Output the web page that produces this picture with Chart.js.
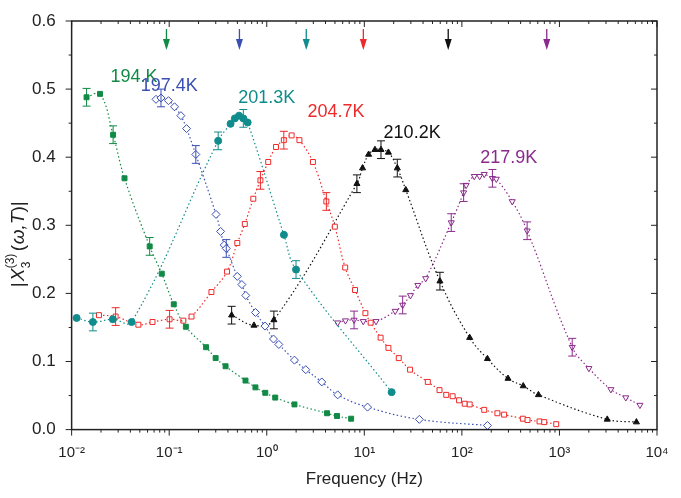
<!DOCTYPE html>
<html><head><meta charset="utf-8">
<script src="https://cdn.jsdelivr.net/npm/chart.js@4/dist/chart.umd.min.js"></script>
<style>body{margin:0;background:#fff}#wrap{width:681px;height:498px}</style>
</head><body><div id="wrap"><canvas id="c"></canvas></div>
<script>
// log10(frequency) and |X3| values
const g194x=[-1.847,-1.709,-1.575,-1.458,-1.2,-1.076,-0.953,-0.829,-0.622,-0.524,-0.422,-0.218,-0.116,-0.015,0.087,0.284,0.618,0.72,0.865];
const g194y=[0.488,0.493,0.433,0.369,0.269,0.229,0.184,0.151,0.121,0.105,0.093,0.072,0.062,0.054,0.047,0.037,0.024,0.020,0.016];
const b197x=[-1.135,-1.084,-1.007,-0.945,-0.88,-0.822,-0.727,-0.52,-0.473,-0.436,-0.415,-0.302,-0.255,-0.215,-0.116,-0.018,0.069,0.124,0.284,0.4,0.564,0.727,1.033,1.564,2.262];
const b197y=[0.485,0.487,0.483,0.474,0.461,0.442,0.404,0.316,0.291,0.271,0.266,0.225,0.213,0.197,0.172,0.152,0.133,0.125,0.102,0.088,0.070,0.051,0.033,0.015,0.006];
const t201x=[-1.949,-1.782,-1.578,-1.385,-0.498,-0.371,-0.327,-0.284,-0.24,-0.196,0.176,0.3,1.28];
const t201y=[0.164,0.158,0.162,0.158,0.424,0.449,0.457,0.461,0.457,0.451,0.286,0.235,0.055];
const r204x=[-1.72,-1.549,-1.316,-1.171,-0.996,-0.855,-0.771,-0.567,-0.407,-0.302,-0.225,-0.138,-0.065,0.015,0.095,0.175,0.255,0.335,0.473,0.611,0.698,0.804,0.905,1.011,1.065,1.167,1.247,1.353,1.469,1.651,1.771,1.84,1.905,1.971,2.029,2.08,2.229,2.364,2.433,2.625,2.673,2.796,2.844,2.967];
const r204y=[0.168,0.166,0.154,0.158,0.162,0.160,0.166,0.202,0.232,0.274,0.302,0.339,0.366,0.393,0.415,0.425,0.432,0.425,0.393,0.335,0.298,0.238,0.205,0.171,0.157,0.135,0.120,0.105,0.088,0.070,0.058,0.051,0.049,0.043,0.038,0.037,0.029,0.024,0.022,0.016,0.014,0.012,0.011,0.008];
const k210x=[-0.36,-0.131,0.073,0.924,0.982,1.044,1.109,1.171,1.247,1.338,1.425,1.775,2.08,2.262,2.473,2.629,2.785,3.49,3.789];
const k210y=[0.168,0.153,0.161,0.361,0.384,0.404,0.411,0.411,0.407,0.384,0.352,0.218,0.135,0.104,0.075,0.064,0.051,0.015,0.011];
const p217x=[0.727,0.807,0.895,0.989,1.12,1.316,1.393,1.473,1.549,1.629,1.891,2.018,2.044,2.127,2.182,2.229,2.313,2.353,2.516,2.669,3.131,3.302,3.527,3.68,3.825];
const p217y=[0.157,0.160,0.161,0.159,0.159,0.174,0.183,0.197,0.212,0.222,0.304,0.348,0.359,0.372,0.372,0.375,0.369,0.368,0.335,0.292,0.121,0.090,0.059,0.047,0.036];
// indices of points carrying error bars
const g194err=[0,2,4], b197err=[1,6,10], t201err=[1,4,8,11], r204err=[1,4,12,15,19], k210err=[0,2,3,7,9,11], p217err=[2,6,10,11,16,19,20];
const arrowX=[-1.028,-0.28,0.405,0.99,1.86,2.87];
const yTicks=[0,0.1,0.2,0.3,0.4,0.5,0.6];
const xTicks=[-2,-1,0,1,2,3,4];

const cols=['#128a46','#3a4fb3','#108c8c','#ee2a2a','#111111','#8a2a8c'];
const labels=['194.K','197.4K','201.3K','204.7K','210.2K','217.9K'];
const sup={'-':'⁻','0':'⁰','1':'¹','2':'²','3':'³','4':'⁴'};
const pts=(xs,ys)=>xs.map((x,i)=>({x:Math.pow(10,x),y:ys[i]}));
function ds(i,xs,ys,style,filled,rot,err){
  return {label:labels[i],data:pts(xs,ys),borderColor:cols[i],backgroundColor:filled?cols[i]:'#fff',
    pointBorderColor:cols[i],pointBackgroundColor:filled?cols[i]:'#fff',pointStyle:style,pointRotation:rot||0,
    pointRadius:style==='rectRot'?4:3.5,pointBorderWidth:1,borderWidth:1.2,borderDash:[1.5,2.5],tension:0.4,showLine:true,errIdx:err};
}
const extra={id:'extra',afterDatasetsDraw(ch){
  const c=ch.ctx,xs=ch.scales.x,ys=ch.scales.y,a=ch.chartArea;
  c.save();
  // error bars
  ch.data.datasets.forEach(d=>{(d.errIdx||[]).forEach(i=>{const p=d.data[i];const px=xs.getPixelForValue(p.x);
    const y1=ys.getPixelForValue(p.y+0.013),y2=ys.getPixelForValue(p.y-0.013);
    c.strokeStyle=d.borderColor;c.lineWidth=1;c.beginPath();c.moveTo(px,y1);c.lineTo(px,y2);
    c.moveTo(px-4,y1);c.lineTo(px+4,y1);c.moveTo(px-4,y2);c.lineTo(px+4,y2);c.stroke();});});
  // arrows
  arrowX.forEach((lx,i)=>{const px=xs.getPixelForValue(Math.pow(10,lx));c.strokeStyle=cols[i];c.fillStyle=cols[i];c.lineWidth=1.3;
    c.beginPath();c.moveTo(px,a.top+8);c.lineTo(px,a.top+26);c.stroke();
    c.beginPath();c.moveTo(px-3.5,a.top+18);c.lineTo(px+3.5,a.top+18);c.lineTo(px,a.top+29);c.closePath();c.fill();});
  // curve labels
  const lp=[[-1.36,0.511],[-1.0,0.497],[0.0,0.479],[0.71,0.459],[1.49,0.428],[2.48,0.391]];
  c.font='18px Arial, "Liberation Sans"';c.textAlign='center';c.textBaseline='alphabetic';
  lp.forEach((p,i)=>{c.fillStyle=cols[i];c.fillText(labels[i],xs.getPixelForValue(Math.pow(10,p[0])),ys.getPixelForValue(p[1]));});
  // frame and ticks
  c.strokeStyle='#222';c.lineWidth=1.5;c.strokeRect(a.left,a.top,a.right-a.left,a.bottom-a.top);
  c.lineWidth=1;c.beginPath();
  for(let v=0;v<=0.6001;v+=0.05){const py=ys.getPixelForValue(v);const L=Math.round(v*100)%10===0?6:3;
    c.moveTo(a.left-L,py);c.lineTo(a.left,py);c.moveTo(a.right,py);c.lineTo(a.right-L,py);}
  for(let e=-2;e<=4;e++){for(let m=1;m<10;m++){if(e===4&&m>1)break;const px=xs.getPixelForValue(m*Math.pow(10,e));const L=m===1?6:3;
    c.moveTo(px,a.bottom);c.lineTo(px,a.bottom+L);c.moveTo(px,a.top);c.lineTo(px,a.top+L);}}
  c.stroke();
  // y title
  c.fillStyle='#222';c.translate(18,(a.top+a.bottom)/2);c.rotate(-Math.PI/2);c.textAlign='left';
  c.font='19px Arial';let x=-62;c.fillText('|',x,6);x+=6;c.font='italic 19px Arial';c.fillText('X',x,6);x+=13;
  c.font='12px Arial';c.fillText('3',x,12);c.fillText('(3)',x,-4);x+=17;c.font='19px Arial';c.fillText('(',x,6);x+=7;
  c.font='italic 19px Arial';c.fillText('ω,T',x,6);x+=c.measureText('ω,T').width;c.font='19px Arial';c.fillText(')|',x,6);
  c.restore();
}};
new Chart(document.getElementById('c'),{type:'scatter',
  data:{datasets:[ds(0,g194x,g194y,'rect',true,0,g194err),ds(1,b197x,b197y,'rectRot',false,0,b197err),ds(2,t201x,t201y,'circle',true,0,t201err),
    ds(3,r204x,r204y,'rect',false,0,r204err),ds(4,k210x,k210y,'triangle',true,0,k210err),ds(5,p217x,p217y,'triangle',false,180,p217err)]},
  options:{responsive:true,maintainAspectRatio:false,animation:false,
    layout:{padding:{left:24,right:24,top:21,bottom:4}},
    plugins:{legend:{display:false},tooltip:{enabled:false}},
    scales:{
      x:{type:'logarithmic',min:0.01,max:10000,grid:{display:false},border:{display:false},
        afterBuildTicks:s=>{s.ticks=xTicks.map(e=>({value:Math.pow(10,e)}));},
        ticks:{color:'#222',font:{size:15,family:'Arial'},maxRotation:0,padding:6,
          callback:v=>'10'+String(Math.round(Math.log10(v))).split('').map(ch=>sup[ch]).join('')},
        title:{display:true,text:'Frequency (Hz)',color:'#222',font:{size:17,family:'Arial'},padding:{top:2}}},
      y:{min:0,max:0.6,grid:{display:false},border:{display:false},
        afterBuildTicks:s=>{s.ticks=yTicks.map(v=>({value:v}));},
        ticks:{color:'#222',font:{size:17,family:'Arial'},padding:8,callback:v=>v.toFixed(1)}}
    }},plugins:[extra]});
</script></body></html>
